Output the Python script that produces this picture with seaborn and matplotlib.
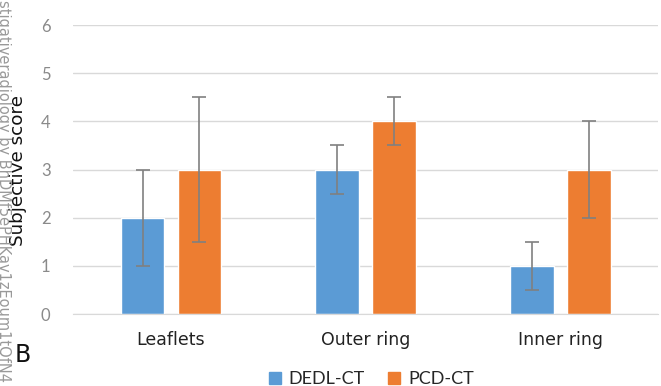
import matplotlib
matplotlib.use("Agg")
import matplotlib.pyplot as plt
import seaborn as sns
import pandas as pd
import numpy as np

categories = ["Leaflets", "Outer ring", "Inner ring"]
methods = ["DEDL-CT", "PCD-CT"]
dedl_scores = [2, 3, 1]
pcd_scores = [3, 4, 3]
dedl_err = [1.0, 0.5, 0.5]
pcd_err = [1.5, 0.5, 1.0]
yticks = [0, 1, 2, 3, 4, 5, 6]

palette = {"DEDL-CT": "#5B9BD5", "PCD-CT": "#ED7D31"}

df = pd.DataFrame({
    "Region": categories * 2,
    "Method": [methods[0]] * 3 + [methods[1]] * 3,
    "Score": dedl_scores + pcd_scores,
    "Err": dedl_err + pcd_err,
})

sns.set_style("white")
fig = plt.figure(figsize=(6.61, 3.86), dpi=100)
ax = fig.add_axes([0.110, 0.1865, 0.885, 0.7485])

sns.barplot(data=df, x="Region", y="Score", hue="Method", order=categories,
            hue_order=methods, palette=palette, width=0.585, gap=0.23,
            errorbar=None, saturation=1, ax=ax, legend=False)

# error bars centred on each drawn bar
for method, cont in zip(methods, ax.containers):
    sub = df[df["Method"] == method].set_index("Region").loc[categories]
    xs = [p.get_x() + p.get_width() / 2 for p in cont.patches]
    ax.errorbar(xs, sub["Score"].values, yerr=sub["Err"].values, fmt="none",
                ecolor="#808080", elinewidth=1.2, capsize=5, capthick=1.2,
                zorder=5)

ax.set_ylim(0, 6)
ax.set_xlim(-0.505, 2.5)
ax.set_yticks(yticks)
ax.yaxis.grid(True, color="#d9d9d9", linewidth=1)
ax.set_axisbelow(True)
for s in ["top", "right", "left"]:
    ax.spines[s].set_visible(False)
ax.spines["bottom"].set_color("#d9d9d9")
ax.tick_params(axis="y", length=0, pad=16, labelsize=12, labelcolor="#8a8a8a")
ax.tick_params(axis="x", length=0, pad=12, labelsize=12.5, labelcolor="#222222")
for lbl in ax.get_yticklabels():
    lbl.set_family("Lato")
ax.set_xlabel("")
ax.set_ylabel("")

fig.text(0.027, 0.557, "Subjective score", rotation=90, ha="center",
         va="center", fontsize=13.2, color="#111111")
fig.text(-0.006, 1.0, "stigativeradiology by BhDMf5ePHKav1zEoum1tQfN4",
         rotation=-90, ha="left", va="bottom", fontsize=10.5, color="#999999",
         rotation_mode="anchor")
fig.text(0.034, 0.08, "B", fontsize=17, ha="center", va="center",
         color="#111111")

handles = [plt.Rectangle((0, 0), 1, 1, color=palette[m]) for m in methods]
fig.legend(handles, methods, loc="center", bbox_to_anchor=(0.562, 0.018),
           ncol=2, frameon=False, handlelength=0.65,
           handleheight=0.65, handletextpad=0.45, columnspacing=1.3,
           prop={"family": "Lato", "size": 13})

fig.savefig("out.png", dpi=100)
